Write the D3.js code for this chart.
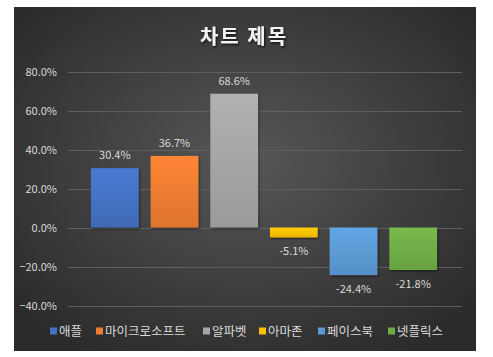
<!DOCTYPE html>
<html><head><meta charset="utf-8">
<script src="https://cdn.jsdelivr.net/npm/d3@7"></script>
<style>html,body{margin:0;padding:0;background:#fff;}svg{display:block;font-family:"Noto Sans CJK KR","Noto Sans",sans-serif;}</style>
</head><body>
<script>
const categories = ["애플","마이크로소프트","알파벳","아마존","페이스북","넷플릭스"];
const values = [30.4, 36.7, 68.6, -5.1, -24.4, -21.8];
const valueLabels = ["30.4%","36.7%","68.6%","-5.1%","-24.4%","-21.8%"];
const yTicks = [-40, -20, 0, 20, 40, 60, 80];
const colors = ["#4472C4","#ED7D31","#A5A5A5","#FFC000","#5B9BD5","#70AD47"];
const title = "차트 제목";

const W = 493, H = 357;
const svg = d3.select("body").append("svg").attr("width", W).attr("height", H);
const defs = svg.append("defs");

const bg = defs.append("radialGradient").attr("id","bg").attr("cx","50%").attr("cy","45%").attr("r","65%");
bg.append("stop").attr("offset","0%").attr("stop-color","#575757");
bg.append("stop").attr("offset","100%").attr("stop-color","#2b2b2b");

colors.forEach((c,i)=>{
  const g = defs.append("linearGradient").attr("id","g"+i).attr("x1","0").attr("y1","0").attr("x2","0").attr("y2","1");
  g.append("stop").attr("offset","0%").attr("stop-color", d3.color(c).brighter(0.2));
  g.append("stop").attr("offset","100%").attr("stop-color", d3.color(c).darker(0.2));
});
const sh = defs.append("filter").attr("id","sh").attr("x","-20%").attr("y","-20%").attr("width","140%").attr("height","140%");
sh.append("feDropShadow").attr("dx",1).attr("dy",1.5).attr("stdDeviation",1.2).attr("flood-color","#000").attr("flood-opacity",0.5);
const tsh = defs.append("filter").attr("id","tsh").attr("x","-20%").attr("y","-30%").attr("width","140%").attr("height","160%");
tsh.append("feDropShadow").attr("dx",1).attr("dy",1.5).attr("stdDeviation",1).attr("flood-color","#000").attr("flood-opacity",0.8);

svg.append("rect").attr("x",14).attr("y",7).attr("width",462).attr("height",344).attr("fill","url(#bg)");

const y = d3.scaleLinear().domain([-40, 80]).range([305.5, 71.5]);
const x = d3.scaleBand().domain(categories).range([85, 443]).paddingInner(0.2).paddingOuter(0.1);

// gridlines
svg.append("g").selectAll("line").data(yTicks).join("line")
  .attr("x1",68).attr("x2",462)
  .attr("y1",d=>Math.round(y(d))+0.5).attr("y2",d=>Math.round(y(d))+0.5)
  .attr("stroke","#5e5e5e").attr("stroke-width",1);

// y axis labels
const yAxis = d3.axisLeft(y).tickValues(yTicks).tickSize(0).tickPadding(0).tickFormat(d=>d3.format(".1f")(d)+"%");
const ga = svg.append("g").attr("transform","translate(57,0)").call(yAxis);
ga.select(".domain").remove();
ga.selectAll("text").attr("fill","#d9d9d9").attr("font-size",11).attr("font-family","\"Noto Sans CJK KR\",sans-serif");

// bars
svg.append("g").selectAll("rect").data(values).join("rect")
  .attr("x",(d,i)=>x(categories[i]))
  .attr("width",x.bandwidth())
  .attr("y",d=>y(Math.max(0,d)))
  .attr("height",d=>Math.abs(y(d)-y(0)))
  .attr("fill",(d,i)=>"url(#g"+i+")")
  .attr("filter","url(#sh)");

// value labels
svg.append("g").selectAll("text").data(values).join("text")
  .attr("x",(d,i)=>x(categories[i])+x.bandwidth()/2)
  .attr("y",d=> d>=0 ? y(d)-9 : y(d)+18)
  .attr("text-anchor","middle")
  .attr("fill","#d9d9d9").attr("font-size",11)
  .text((d,i)=>valueLabels[i]);

// title
svg.append("text").attr("x",244).attr("y",44).attr("text-anchor","middle")
  .attr("fill","#f2f2f2").attr("font-size",20).attr("font-weight","bold")
  .attr("letter-spacing",2).attr("filter","url(#tsh)").text(title);

// legend
const legendX = [50, 96, 203, 259, 318, 388];
const lg = svg.append("g").selectAll("g").data(categories).join("g")
  .attr("transform",(d,i)=>`translate(${legendX[i]},0)`);
lg.append("rect").attr("x",0).attr("y",327.5).attr("width",7).attr("height",7).attr("fill",(d,i)=>colors[i]);
lg.append("text").attr("x",9).attr("y",336).attr("fill","#d9d9d9").attr("font-size",12.5).text(d=>d);
</script>
</body></html>
